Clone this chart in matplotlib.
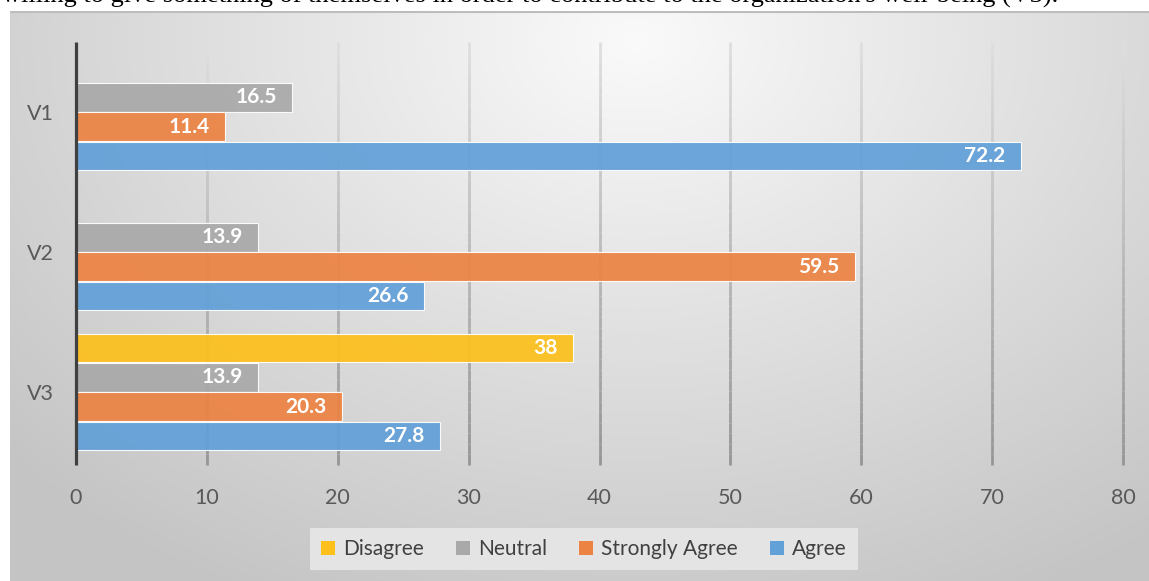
import numpy as np
import matplotlib
matplotlib.use("Agg")
import matplotlib.pyplot as plt
from matplotlib.collections import LineCollection

# data
categories = ["V1", "V2", "V3"]
series = ["Disagree", "Neutral", "Strongly Agree", "Agree"]
disagree = [0, 0, 38]
neutral = [16.5, 13.9, 13.9]
strongly_agree = [11.4, 59.5, 20.3]
agree = [72.2, 26.6, 27.8]
xticks = [0, 10, 20, 30, 40, 50, 60, 70, 80]

values = [disagree, neutral, strongly_agree, agree]
colors = ["#fdc01c", "#a9a9a9", "#ec8343", "#62a0d8"]

W, H = 1149, 581
fig = plt.figure(figsize=(W / 100, H / 100), dpi=100)
fig.patch.set_facecolor("white")

# cropped caption line from the page above the chart (cut off in the source too)
fig.text(2 / W, 1 - 3 / H, "willing to give something of themselves in order to contribute to the organization's well-being (V3).",
         family="Liberation Serif", fontsize=19, color="black", va="baseline", ha="left")

# chart area with radial gray gradient
bg = fig.add_axes([10 / W, 0, 1 - 10 / W, 1 - 11 / H])
gx, gy = np.meshgrid(np.linspace(0, 1, 400), np.linspace(0, 1, 200))
r = np.sqrt(((gx - 0.55) / 0.75) ** 2 + ((gy - 0.05) / 1.1) ** 2)
r = np.clip(r, 0, 1)
c0, c1 = 0.98, 0.77
img = c0 + (c1 - c0) * r
bg.imshow(np.dstack([img, img, img]), aspect="auto", extent=[0, 1, 1, 0], interpolation="bilinear")
bg.set_xlim(0, 1)
bg.set_ylim(1, 0)
bg.axis("off")
bg.plot([0, 1], [0.001, 0.001], color="#bdbdbd", lw=1.5)

ax = fig.add_axes([76 / W, 1 - 462 / H, (1123 - 76) / W, 420 / H])
ax.patch.set_alpha(0)

nser = len(series)
bh = 0.21
ypos = np.arange(len(categories))
for i, (name, vals, col) in enumerate(zip(series, values, colors)):
    off = (i - (nser - 1) / 2) * bh
    ys = ypos + off
    ax.barh(ys, vals, height=bh * 0.97, color=col, alpha=0.93, label=name,
            edgecolor=(1, 1, 1, 0.35), linewidth=[0.8 if v > 0 else 0 for v in vals], zorder=3)
    for y, v in zip(ys, vals):
        if v > 0:
            ax.annotate(f"{v:g}", (v, y), xytext=(-11, 0), textcoords="offset points",
                        ha="right", va="center", color="white", fontsize=15,
                        fontweight="bold", family="Lato", zorder=4)

ax.set_xlim(0, 80)
ax.set_ylim(len(categories) - 0.5, -0.5)

# gridlines fading from light at top to darker at bottom
segs, cols = [], []
ytop, ybot = -0.5, len(categories) - 0.5 + 3 / 140
nseg = 40
edges = np.linspace(ytop, ybot, nseg + 1)
for xt in xticks[1:]:
    for k in range(nseg):
        segs.append([(xt, edges[k]), (xt, edges[k + 1])])
        g = 0.87 - 0.29 * (k / nseg)
        cols.append((g, g, g))
ax.add_collection(LineCollection(segs, colors=cols, linewidths=2, zorder=2, clip_on=False))
ax.vlines(0, ytop, ybot, color="#404040", lw=2.3, zorder=5, clip_on=False)

for s in ax.spines.values():
    s.set_visible(False)
ax.set_xticks(xticks)
ax.set_xticklabels([str(t) for t in xticks])
ax.set_yticks(ypos)
ax.set_yticklabels(categories)
ax.tick_params(length=0, colors="#595959", labelsize=15.5)
ax.tick_params(axis="x", pad=19)
ax.tick_params(axis="y", pad=16)
for lab in ax.get_xticklabels() + ax.get_yticklabels():
    lab.set_family("Lato")

leg = fig.legend(loc="center", bbox_to_anchor=(584 / W, 1 - 549 / H), ncol=4,
                 prop={"family": "Lato", "size": 15}, frameon=True, fancybox=False,
                 handlelength=0.65, handleheight=0.65, handletextpad=0.4, columnspacing=1.55,
                 borderpad=0.55, borderaxespad=0)
leg.get_frame().set_facecolor("#e4e4e4")
leg.get_frame().set_edgecolor("none")
leg.get_frame().set_alpha(1)
for t in leg.get_texts():
    t.set_color("#404040")
for h in leg.legend_handles:
    h.set_alpha(1)
    h.set_linewidth(0)

fig.savefig("out.png", dpi=100)
